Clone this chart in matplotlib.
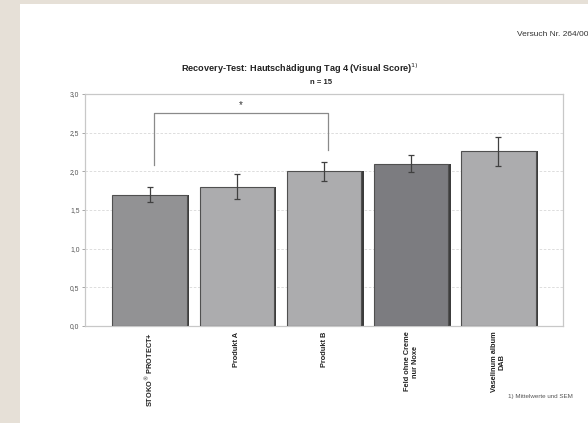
import numpy as np
import matplotlib
matplotlib.use('Agg')
from matplotlib import pyplot as plt
from matplotlib.patches import Rectangle

# data
categories = ['STOKO$^{\u00ae}$ PROTECT+', 'Produkt A', 'Produkt B',
              'Feld ohne Creme\nnur Noxe', 'Vaselinum album\nDAB']
means = [1.70, 1.80, 2.00, 2.10, 2.26]
sem = [0.10, 0.16, 0.12, 0.11, 0.19]
bar_colors = ['#929294', '#acacae', '#acacae', '#7c7c80', '#acacae']
yticks = [0.0, 0.5, 1.0, 1.5, 2.0, 2.5, 3.0]
ytick_labels = ['0,0', '0,5', '1,0', '1,5', '2,0', '2,5', '3,0']

plt.rcParams['font.family'] = ['Liberation Sans', 'DejaVu Sans']

fig = plt.figure(figsize=(5.88, 4.23), dpi=100)
fig.patch.set_facecolor('#e6e0d7')
# white page
fig.add_artist(Rectangle((20/588, 0), 1, 1 - 4/423, transform=fig.transFigure,
                         facecolor='white', edgecolor='none', zorder=-5))

ax = fig.add_axes([85/588, 1 - 326/423, 478/588, 232/423])
ax.set_zorder(2)
ax.set_facecolor('white')

x = np.arange(len(categories))
w = 0.85
# shadow
ax.bar(x + 0.03, means, width=w, color='#3c3c3c', zorder=2)
ax.bar(x, means, width=w, color=bar_colors, edgecolor='#505050', linewidth=0.8, zorder=3)
ax.errorbar(x, means, yerr=sem, fmt='none', ecolor='#404040', elinewidth=0.9,
            capsize=2, capthick=0.9, zorder=4)

# significance bracket
bx0, bx1, by = 0.05, 2.05, 2.75
ax.plot([bx0, bx0, bx1, bx1], [2.08, by, by, 2.27], color='#8a8a8a', lw=0.9, zorder=1)
ax.text((bx0 + bx1) / 2, 2.86, '*', ha='center', va='center', fontsize=7, color='#333333')

ax.set_xlim(-0.74, 4.74)
ax.set_ylim(0, 3.0)
ax.set_yticks(yticks)
ax.set_yticklabels(ytick_labels, fontsize=4.9, color='#555555')
ax.yaxis.grid(True, linestyle=(0, (3, 2)), color='#d8d8d8', lw=0.6, zorder=0)
ax.set_axisbelow(True)
ax.set_xticks(x)
ax.set_xticklabels(categories, rotation=90, fontsize=5.3, fontweight='bold',
                   va='top', ha='center', color='#222222')
ax.tick_params(axis='x', length=0, pad=4)
ax.tick_params(axis='y', length=2, width=0.6, color='#999999', pad=2)
for s in ax.spines.values():
    s.set_color('#c8c8c8')
    s.set_linewidth(0.9)

fig.text(300/588, 1 - 69/423, 'Recovery-Test: Hautschädigung Tag 4 (Visual Score)$^{1)}$',
         ha='center', va='center', fontsize=6.6, fontweight='bold', color='#222222')
fig.text(321/588, 1 - 83/423, 'n = 15', ha='center', va='center',
         fontsize=5.5, fontweight='bold', color='#222222')
fig.text(517/588, 1 - 34/423, 'Versuch Nr. 264/00', ha='left', va='center',
         fontsize=6.0, color='#333333')
fig.text(508/588, 1 - 396/423, '1) Mittelwerte und SEM', ha='left', va='center',
         fontsize=4.5, color='#555555')

fig.savefig('out.png', dpi=100, facecolor=fig.get_facecolor())
